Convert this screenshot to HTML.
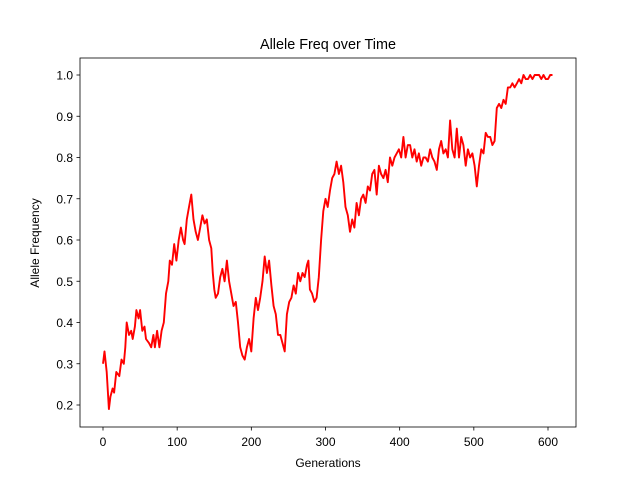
<!DOCTYPE html>
<html><head><meta charset="utf-8"><style>
body{margin:0;background:#fff}
svg text{font-family:"Liberation Sans","DejaVu Sans",sans-serif;fill:#000}
</style></head><body>
<svg id="chart" width="640" height="480" viewBox="0 0 640 480">
<rect x="0" y="0" width="640" height="480" fill="#fff"/>
<text x="328" y="49" font-size="14.4" text-anchor="middle">Allele Freq over Time</text>
<text x="328" y="467" font-size="12" text-anchor="middle">Generations</text>
<text x="39" y="243" font-size="12" text-anchor="middle" transform="rotate(-90 39 243)">Allele Frequency</text>
<g id="ticks"></g>
<path id="line" fill="none" stroke="#ff0000" stroke-width="1.9" stroke-linejoin="round"/>
<rect x="80" y="58" width="496" height="369" fill="none" stroke="#000" stroke-width="0.8"/>
</svg>
<script>
const generations=[0,2,5,8,10,13,15,18,22,25,28,30,32,35,38,40,43,45,48,50,53,56,58,62,65,68,70,73,76,79,82,85,88,90,93,96,99,102,105,108,110,113,116,119,122,125,128,131,134,137,140,143,146,148,150,152,155,158,161,164,167,170,173,176,179,182,185,188,191,194,197,200,203,206,209,212,215,218,221,224,227,230,233,236,239,242,245,248,251,254,257,260,263,266,269,272,275,277,279,282,285,288,291,294,297,300,303,306,309,312,315,318,321,324,327,330,333,336,339,342,345,348,351,354,357,360,363,366,369,372,375,378,381,384,387,390,393,396,399,402,405,408,411,414,417,420,423,426,429,432,435,438,441,444,447,450,453,456,459,462,465,468,471,474,477,480,483,486,489,492,495,498,501,504,507,510,513,516,519,522,525,528,531,534,537,540,543,546,549,552,555,558,561,564,567,570,573,576,579,582,585,588,591,594,597,600,603,606];
const frequencies=[0.30,0.33,0.28,0.19,0.22,0.24,0.23,0.28,0.27,0.31,0.30,0.34,0.40,0.37,0.38,0.36,0.39,0.43,0.41,0.43,0.38,0.39,0.36,0.35,0.34,0.37,0.34,0.38,0.34,0.38,0.40,0.47,0.50,0.55,0.54,0.59,0.55,0.60,0.63,0.60,0.59,0.65,0.68,0.71,0.65,0.62,0.60,0.63,0.66,0.64,0.65,0.60,0.58,0.52,0.48,0.46,0.47,0.51,0.53,0.50,0.55,0.50,0.47,0.44,0.45,0.40,0.34,0.32,0.31,0.34,0.36,0.33,0.41,0.46,0.43,0.46,0.50,0.56,0.52,0.55,0.49,0.44,0.42,0.37,0.37,0.35,0.33,0.42,0.45,0.46,0.49,0.47,0.52,0.50,0.52,0.51,0.54,0.55,0.48,0.47,0.45,0.46,0.51,0.60,0.67,0.70,0.68,0.72,0.75,0.76,0.79,0.76,0.78,0.74,0.68,0.66,0.62,0.65,0.63,0.69,0.66,0.70,0.71,0.69,0.73,0.72,0.76,0.77,0.71,0.78,0.76,0.75,0.77,0.74,0.80,0.78,0.80,0.81,0.82,0.80,0.85,0.80,0.83,0.83,0.80,0.82,0.79,0.81,0.78,0.80,0.80,0.79,0.82,0.80,0.79,0.77,0.82,0.84,0.81,0.82,0.80,0.89,0.82,0.80,0.87,0.80,0.85,0.83,0.78,0.82,0.80,0.81,0.78,0.73,0.78,0.82,0.81,0.86,0.85,0.85,0.83,0.84,0.92,0.93,0.92,0.94,0.93,0.97,0.97,0.98,0.97,0.98,0.99,0.98,1.00,0.99,0.99,1.00,0.99,1.00,1.00,1.00,0.99,1.00,0.99,0.99,1.00,1.00];
const xTicks=[0,100,200,300,400,500,600];
const yTicks=[0.2,0.3,0.4,0.5,0.6,0.7,0.8,0.9,1.0];
const xScale=g=>103+g*(445/600);
const yScale=v=>405-(v-0.2)*412.5;
const NS="http://www.w3.org/2000/svg";
const tg=document.getElementById('ticks');
xTicks.forEach(t=>{
  const l=document.createElementNS(NS,'line');
  l.setAttribute('x1',xScale(t));l.setAttribute('x2',xScale(t));l.setAttribute('y1',427);l.setAttribute('y2',430.5);l.setAttribute('stroke','#000');l.setAttribute('stroke-width','0.8');
  
  
  tg.appendChild(l);
  const tx=document.createElementNS(NS,'text');
  tx.setAttribute('x',xScale(t));tx.setAttribute('y',446);tx.setAttribute('font-size','12');tx.setAttribute('text-anchor','middle');tx.textContent=t;
  
  
  tg.appendChild(tx);
});
yTicks.forEach(t=>{
  const l=document.createElementNS(NS,'line');
  l.setAttribute('x1',76.5);l.setAttribute('x2',80);l.setAttribute('y1',yScale(t));l.setAttribute('y2',yScale(t));l.setAttribute('stroke','#000');l.setAttribute('stroke-width','0.8');
  
  
  tg.appendChild(l);
  const tx=document.createElementNS(NS,'text');
  tx.setAttribute('x',73);tx.setAttribute('y',yScale(t)+4.5);tx.setAttribute('font-size','12');tx.setAttribute('text-anchor','end');tx.textContent=t.toFixed(1);
  
  
  tg.appendChild(tx);
});
document.getElementById('line').setAttribute('d',generations.map((g,i)=>(i?'L':'M')+xScale(g).toFixed(1)+','+yScale(frequencies[i]).toFixed(1)).join(''));
</script>
</body></html>
